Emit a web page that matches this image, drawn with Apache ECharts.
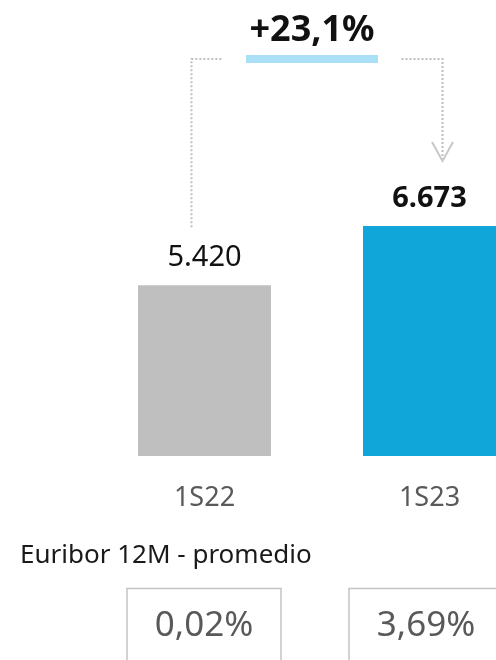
<!DOCTYPE html>
<html>
<head>
<meta charset="utf-8">
<script src="https://cdn.jsdelivr.net/npm/echarts@6/dist/echarts.min.js"></script>
<style>
  html, body { margin: 0; padding: 0; background: #ffffff; }
  #chart { width: 496px; height: 660px; }
</style>
</head>
<body>
<div id="chart"></div>
<script>
// Periods and net interest figures
const periods = ['1S22', '1S23'];
const values = [5420, 6673];
const barColors = ['#bfbfbf', '#11a6da'];
const labelWeights = ['normal', 'bold'];
// Average 12-month Euribor for each period (%)
const euribor = [0.02, 3.69];
const euriborTitle = 'Euribor 12M - promedio';

const FONT = '"Noto Sans", "Open Sans", sans-serif';

function thousands(v) {
  return String(v).replace(/\B(?=(\d{3})+(?!\d))/g, '.');
}
function pctEs(v, digits) {
  return v.toFixed(digits).replace('.', ',');
}

const chart = echarts.init(document.getElementById('chart'), null, { renderer: 'canvas' });

const option = {
  animation: false,
  grid: { left: 92, top: 69, right: -46, bottom: 204, outerBoundsMode: 'none', containLabel: false },
  xAxis: {
    type: 'category',
    data: periods,
    axisLine: { show: false },
    axisTick: { show: false },
    axisLabel: { color: '#595959', fontSize: 27, fontFamily: FONT, margin: 29 }
  },
  yAxis: {
    type: 'value',
    min: 1800,
    max: 10000,
    show: false,
    splitLine: { show: false }
  },
  series: [{
    type: 'bar',
    barWidth: 133,
    data: values.map((v, i) => ({
      value: v,
      itemStyle: { color: barColors[i] },
      label: { fontWeight: labelWeights[i] }
    })),
    label: {
      show: true,
      position: 'top',
      distance: 13,
      color: '#111111',
      fontSize: 29,
      fontFamily: FONT,
      formatter: p => thousands(p.value)
    }
  }]
};
chart.setOption(option);

// Annotation: growth bracket, growth label and Euribor boxes
function px(i, v) {
  return chart.convertToPixel({ xAxisIndex: 0, yAxisIndex: 0 }, [i, v]);
}
const p0 = px(0, values[0]);
const p1 = px(1, values[1]);
const bracketY = 59;
const leftX = p0[0] - 13;
const rightX = p1[0] + 13;
const midX = (leftX + rightX) / 2 - 5;
const growth = (values[1] / values[0] - 1) * 100;
const dotted = { stroke: '#c0c0c0', lineWidth: 2, lineDash: [2, 2] };

const elements = [
  { type: 'polyline', shape: { points: [[leftX, p0[1] - 58], [leftX, bracketY], [leftX + 30, bracketY]] }, style: dotted },
  { type: 'polyline', shape: { points: [[rightX - 41, bracketY], [rightX, bracketY], [rightX, p1[1] - 67]] }, style: dotted },
  { type: 'polyline', shape: { points: [[rightX - 10.5, p1[1] - 84], [rightX, p1[1] - 65], [rightX + 10.5, p1[1] - 84]] },
    style: { stroke: '#c8c8c8', lineWidth: 2, fill: null } },
  { type: 'text', x: midX, y: 31, style: {
      text: '+' + pctEs(growth, 1) + '%', fill: '#111111', font: 'bold 36px ' + FONT,
      textAlign: 'center', textVerticalAlign: 'middle' } },
  { type: 'rect', shape: { x: midX - 66, y: 55, width: 132, height: 8 }, style: { fill: '#a9e0f6' } },
  { type: 'text', x: 20, y: 556, style: {
      text: euriborTitle, fill: '#1a1a1a', font: '26px ' + FONT,
      textAlign: 'left', textVerticalAlign: 'middle' } }
];

const boxLeft = 127, boxGap = 222, boxW = 154;
euribor.forEach((e, i) => {
  const x = boxLeft + i * boxGap;
  elements.push({ type: 'rect', shape: { x: x, y: 588.5, width: boxW, height: 100 },
    style: { fill: null, stroke: '#c4c4c4', lineWidth: 1.5 } });
  elements.push({ type: 'text', x: x + boxW / 2, y: 626, style: {
    text: pctEs(e, 2) + '%', fill: '#595959', font: '35px ' + FONT,
    textAlign: 'center', textVerticalAlign: 'middle' } });
});

chart.setOption({ graphic: { elements: elements } });
</script>
</body>
</html>
